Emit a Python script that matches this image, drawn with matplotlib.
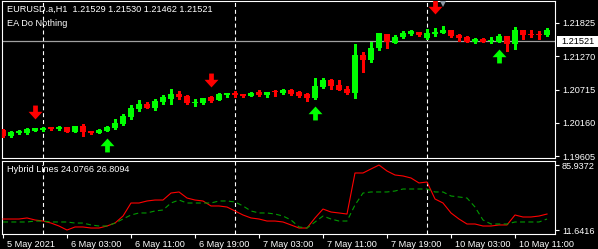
import matplotlib.pyplot as plt
from matplotlib.path import Path
from matplotlib.patches import Rectangle
import matplotlib.transforms as mtransforms

# EURUSD H1 candles
opens = [1.20041, 1.19941, 1.19991, 1.19991, 1.20024, 1.20041, 1.20091, 1.20058, 1.20091, 1.20008,
         1.20108, 1.20024, 1.19991, 1.20024, 1.20074, 1.20141, 1.20258, 1.20391, 1.20474, 1.20408,
         1.20508, 1.20558, 1.20641, 1.20608, 1.20491, 1.20491, 1.20591, 1.20541, 1.20624, 1.20658,
         1.20641, 1.20608, 1.20674, 1.20624, 1.20691, 1.20658, 1.20708, 1.20674, 1.20641, 1.20574,
         1.20758, 1.20874, 1.20791, 1.20724, 1.20658, 1.21291, 1.21208, 1.21408, 1.21641, 1.21491,
         1.21591, 1.21641, 1.21675, 1.21575, 1.21641, 1.21658, 1.21708, 1.21625, 1.21591, 1.21508,
         1.21558, 1.21525, 1.21508, 1.21608, 1.21475, 1.21708, 1.21641, 1.21641, 1.21625]
highs = [1.20058, 1.20024, 1.20041, 1.20074, 1.20080, 1.20091, 1.20095, 1.20108, 1.20095, 1.20115,
         1.20141, 1.20030, 1.20058, 1.20108, 1.20224, 1.20308, 1.20458, 1.20541, 1.20508, 1.20558,
         1.20624, 1.20724, 1.20691, 1.20624, 1.20558, 1.20580, 1.20608, 1.20658, 1.20665, 1.20691,
         1.20648, 1.20674, 1.20708, 1.20680, 1.20708, 1.20724, 1.20724, 1.20691, 1.20658, 1.20908,
         1.20908, 1.20891, 1.20874, 1.20774, 1.21475, 1.21341, 1.21508, 1.21665, 1.21648, 1.21625,
         1.21691, 1.21708, 1.21680, 1.21725, 1.21741, 1.21775, 1.21715, 1.21641, 1.21608, 1.21575,
         1.21575, 1.21591, 1.21641, 1.21615, 1.21758, 1.21715, 1.21708, 1.21691, 1.21741]
lows = [1.19924, 1.19924, 1.19974, 1.19974, 1.20020, 1.20024, 1.20041, 1.20041, 1.20000, 1.20000,
        1.19941, 1.19974, 1.19985, 1.20020, 1.20058, 1.20124, 1.20224, 1.20358, 1.20400, 1.20374,
        1.20474, 1.20474, 1.20558, 1.20474, 1.20441, 1.20474, 1.20508, 1.20535, 1.20591, 1.20591,
        1.20591, 1.20600, 1.20608, 1.20591, 1.20608, 1.20641, 1.20624, 1.20591, 1.20524, 1.20558,
        1.20741, 1.20724, 1.20700, 1.20641, 1.20574, 1.21008, 1.21174, 1.21374, 1.21408, 1.21485,
        1.21575, 1.21625, 1.21608, 1.21558, 1.21608, 1.21652, 1.21591, 1.21525, 1.21500, 1.21491,
        1.21500, 1.21491, 1.21500, 1.21358, 1.21391, 1.21558, 1.21591, 1.21558, 1.21608]
closes = [1.19941, 1.20008, 1.20024, 1.20058, 1.20074, 1.20074, 1.20058, 1.20091, 1.20008, 1.20108,
          1.20008, 1.19991, 1.20041, 1.20091, 1.20158, 1.20274, 1.20408, 1.20474, 1.20408, 1.20524,
          1.20591, 1.20641, 1.20591, 1.20491, 1.20508, 1.20574, 1.20524, 1.20641, 1.20658, 1.20624,
          1.20608, 1.20658, 1.20624, 1.20674, 1.20674, 1.20708, 1.20641, 1.20608, 1.20574, 1.20774,
          1.20874, 1.20774, 1.20708, 1.20658, 1.21291, 1.21208, 1.21408, 1.21658, 1.21508, 1.21591,
          1.21658, 1.21691, 1.21625, 1.21658, 1.21675, 1.21708, 1.21608, 1.21575, 1.21508, 1.21558,
          1.21508, 1.21541, 1.21608, 1.21475, 1.21708, 1.21625, 1.21625, 1.21625, 1.21708]

# Hybrid Lines indicator
red_line = [24.2, 24.2, 24.2, 25.4, 23.1, 21.9, 19.6, 16.2, 11.6, 15.1,
            15.1, 13.9, 13.9, 16.2, 19.6, 27.6, 42.5, 42.5, 44.8, 45.9,
            45.9, 53.9, 55.1, 48.2, 45.9, 44.8, 39.1, 39.1, 37.9, 33.4,
            28.8, 25.4, 24.2, 21.9, 21.9, 20.8, 17.4, 13.9, 13.9, 25.4,
            35.6, 32.2, 31.1, 29.9, 76.8, 76.8, 81.4, 85.9, 79.1, 74.5,
            73.4, 71.1, 65.4, 66.5, 47.1, 42.5, 31.1, 24.2, 18.5, 18.5,
            16.2, 16.2, 17.4, 17.4, 28.8, 26.5, 26.5, 27.6, 29.9]
green_line = [20.8, 20.8, 20.8, 20.8, 21.9, 21.9, 20.8, 20.8, 20.8, 19.6,
              19.6, 17.4, 16.2, 16.2, 19.6, 24.2, 28.8, 31.1, 31.1, 33.4,
              34.5, 42.5, 45.9, 42.5, 42.5, 42.5, 42.5, 44.8, 44.8, 43.7,
              39.1, 33.4, 31.1, 31.1, 29.9, 27.6, 23.1, 15.1, 13.9, 20.8,
              27.6, 24.2, 21.9, 21.9, 40.2, 53.9, 55.1, 55.1, 55.1, 56.2,
              58.5, 58.5, 58.5, 58.5, 55.1, 55.1, 50.5, 49.4, 48.2, 37.9,
              23.1, 18.5, 18.5, 18.5, 20.8, 20.8, 20.8, 20.8, 24.2]

# signals: (bar index, price)
sell_arrows = [(4, 1.20349), (26, 1.20866), (54, 1.22083)]
buy_arrows = [(13, 1.19791), (39, 1.20324), (62, 1.21275)]
day_separators = [5, 29, 53]

time_ticks = [0, 8, 16, 24, 32, 40, 48, 56, 64]
time_labels = ['5 May 2021', '6 May 03:00', '6 May 11:00', '6 May 19:00', '7 May 03:00',
               '7 May 11:00', '7 May 19:00', '10 May 03:00', '10 May 11:00']
price_ticks = [1.21825, 1.21270, 1.20715, 1.20160, 1.19605]
current_price = 1.21521

FONT = 'Liberation Sans'
FS = 6.6
bull = '#00FF00'
bear = '#FF0000'

fig = plt.figure(figsize=(5.98, 2.49), dpi=100, facecolor='black')
ax = fig.add_axes([2/598, (249-158)/249, 553/598, 157/249], facecolor='black')
ax2 = fig.add_axes([2/598, (249-234)/249, 553/598, 73/249], facecolor='black')

for a in (ax, ax2):
    for s in a.spines.values():
        s.set_color('white')
        s.set_linewidth(0.8)
    a.yaxis.tick_right()
    a.tick_params(axis='y', colors='white', labelsize=FS, length=3, width=0.8, pad=2)
    a.set_xlim(-0.125, 69.0)
    for d in day_separators:
        a.axvline(d, color='white', lw=0.8, linestyle=(0, (3.6, 2.6)), zorder=1)

# candles
n = len(opens)
xs = list(range(n))
cols = [bull if closes[i] >= opens[i] else bear for i in xs]
ax.vlines(xs, lows, highs, colors=cols, lw=0.8, antialiased=False, zorder=3)
bottoms = [min(opens[i], closes[i]) for i in xs]
heights = [max(abs(closes[i] - opens[i]), 0.00012) for i in xs]
ax.bar(xs, heights, bottom=bottoms, width=0.64, color=cols, linewidth=0,
       antialiased=False, zorder=4)

ax.axhline(current_price, color='#a0a0a0', lw=0.9, zorder=2)

# arrow markers
down = Path([(-0.17, 0.5), (0.17, 0.5), (0.17, 0.05), (0.5, 0.05), (0.0, -0.5),
             (-0.5, 0.05), (-0.17, 0.05), (-0.17, 0.5)], closed=True)
up = Path([(x, -y) for x, y in down.vertices], closed=True)
ax.plot([a[0] for a in sell_arrows], [a[1] for a in sell_arrows], marker=down,
        markersize=10, color=bear, linestyle='none', markeredgewidth=0, zorder=5)
ax.plot([a[0] for a in buy_arrows], [a[1] for a in buy_arrows], marker=up,
        markersize=10, color=bull, linestyle='none', markeredgewidth=0, zorder=5)
ax.plot([55], [1.22180], marker='v', markersize=7, color='#8c97a3', linestyle='none',
        markeredgewidth=0, zorder=5)

ax.set_ylim(1.19574, 1.22191)
ax.set_yticks(price_ticks)
ax.set_yticklabels(['%.5f' % p for p in price_ticks], fontfamily=FONT)
ax.set_xticks([])

# current price box
tr = mtransforms.blended_transform_factory(ax.transAxes, ax.transData)
ax.add_patch(Rectangle((1 + 2/553, current_price - 0.00092), 45/553, 0.00184,
                       transform=tr, facecolor='white', edgecolor='none', clip_on=False))
ax.text(1 + 6/553, current_price, '%.5f' % current_price, transform=tr, color='black',
        fontsize=FS, fontfamily=FONT, va='center', ha='left', clip_on=False)

# indicator
ax2.plot(xs, red_line, color='#FF0000', lw=0.8, zorder=3)
ax2.plot(xs, green_line, color='#009a00', lw=0.8, linestyle=(0, (4.5, 3)), zorder=3)
ax2.set_ylim(7.07, 90.51)
ax2.set_yticks([85.9372, 11.6416])
ax2.set_yticklabels(['85.9372', '11.6416'], fontfamily=FONT)

ax2.set_xticks(time_ticks)
ax2.set_xticklabels(time_labels, fontfamily=FONT, fontsize=FS, color='white', ha='left')
ax2.tick_params(axis='x', colors='white', length=3, width=0.8, pad=1.5)
offset = mtransforms.ScaledTranslation(4/100, 0, fig.dpi_scale_trans)
for lbl in ax2.get_xticklabels():
    lbl.set_transform(lbl.get_transform() + offset)

# header texts
fig.text(7/598, 1 - 9/249, 'EURUSD.a,H1  1.21529 1.21530 1.21462 1.21521', color='white',
         fontsize=FS, fontfamily=FONT, va='center', ha='left')
fig.text(7/598, 1 - 23/249, 'EA Do Nothing', color='white',
         fontsize=FS, fontfamily=FONT, va='center', ha='left')
fig.text(7/598, 1 - 169/249, 'Hybrid Lines 24.0766 26.8094', color='white',
         fontsize=FS, fontfamily=FONT, va='center', ha='left')

fig.savefig('out.png', dpi=100, facecolor='black')
